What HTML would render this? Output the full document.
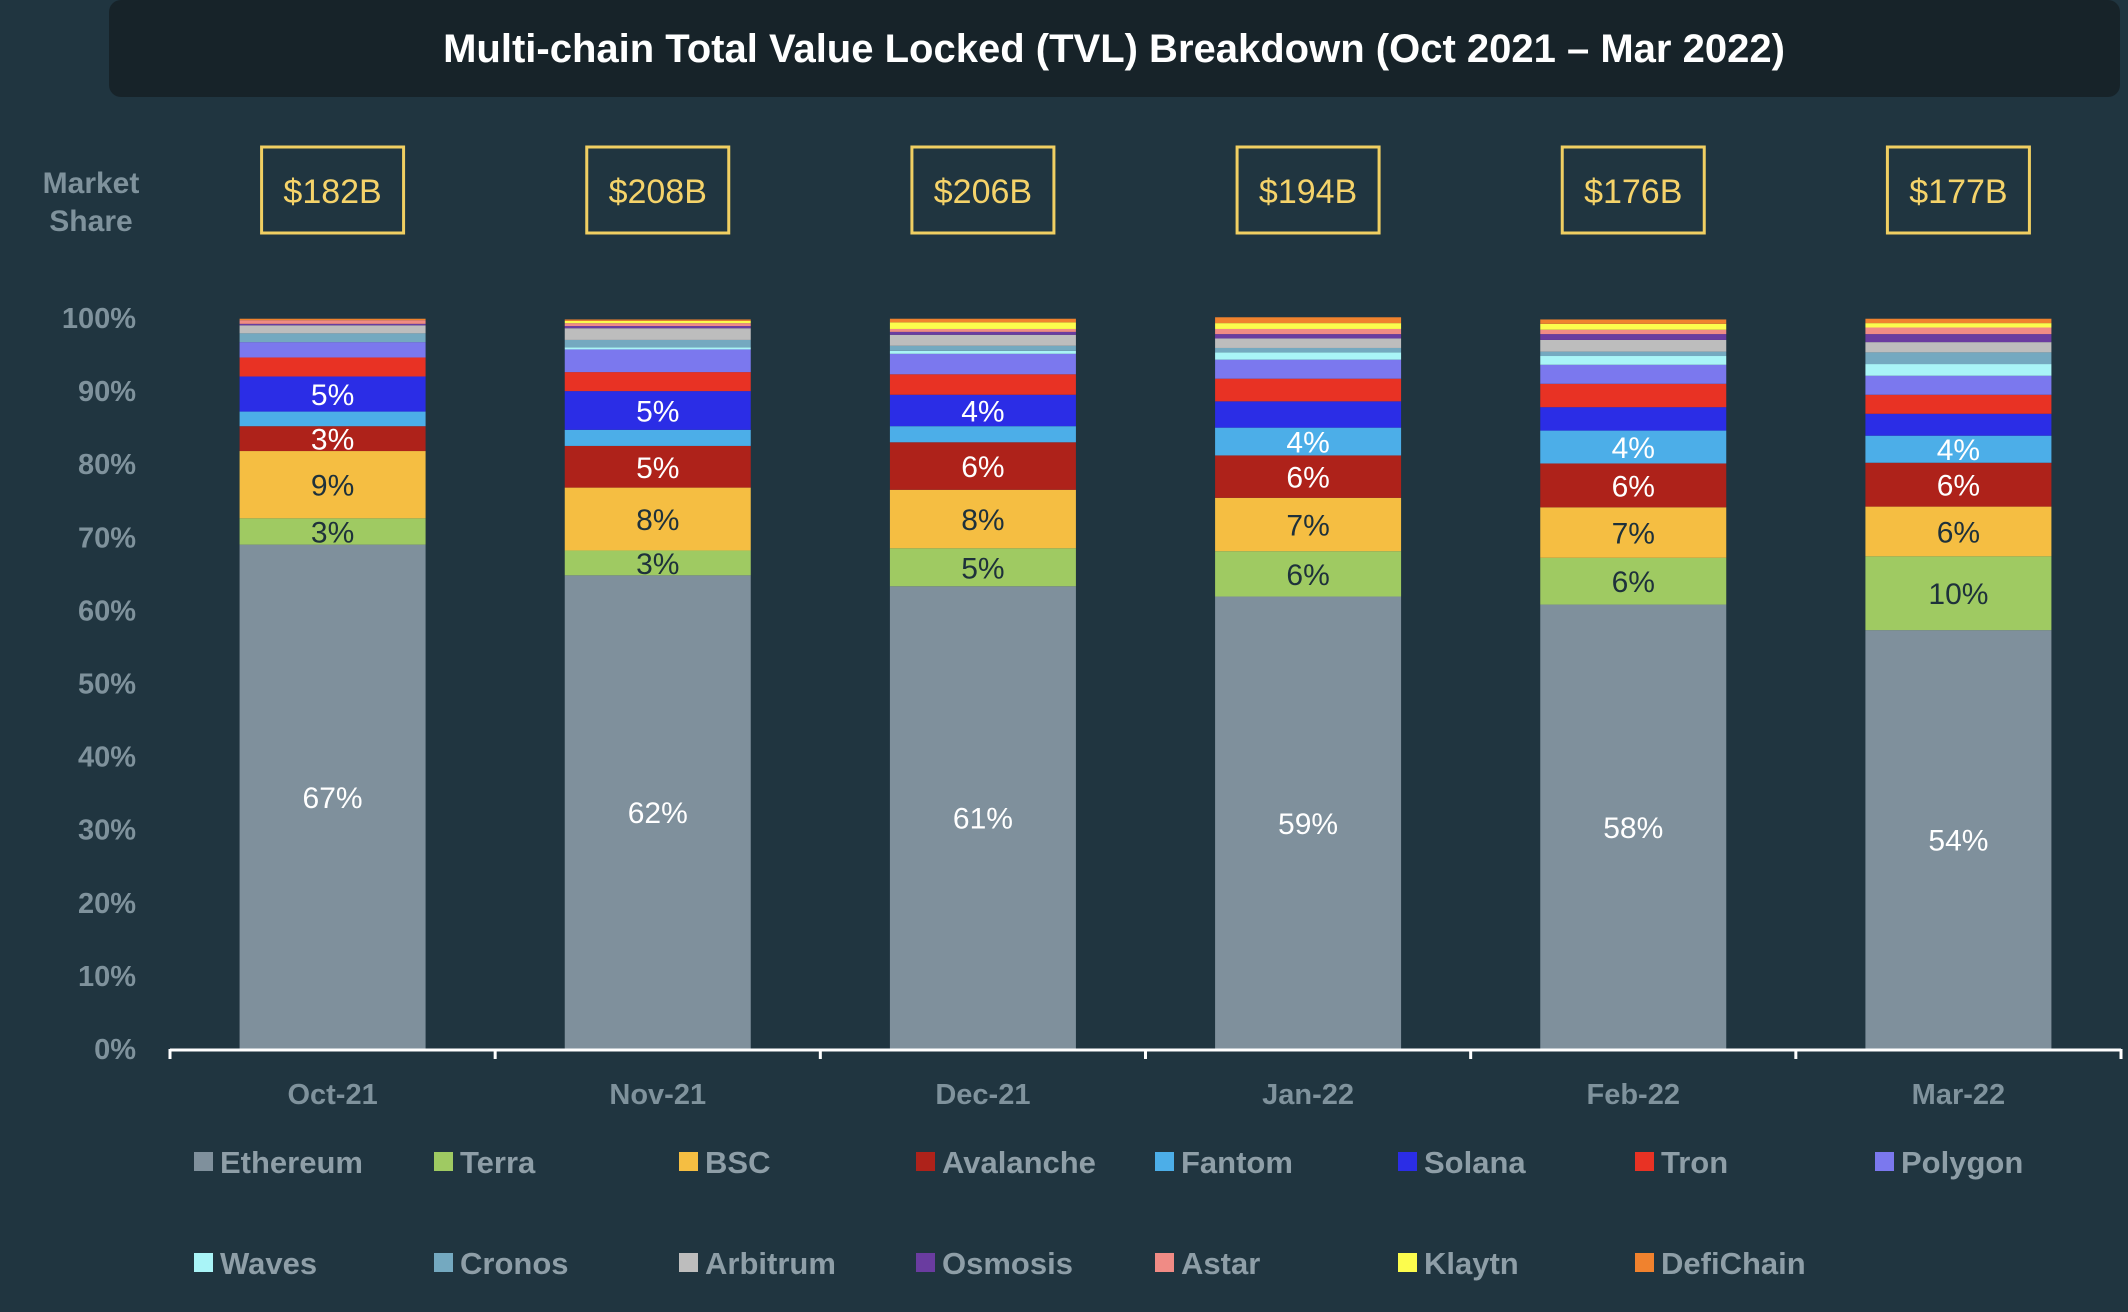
<!DOCTYPE html>
<html><head><meta charset="utf-8"><style>
html,body{margin:0;padding:0;background:#203540;}
svg{display:block;font-family:"Liberation Sans",sans-serif;}
</style></head><body>
<svg id="chart" width="2128" height="1312" viewBox="0 0 2128 1312" xmlns="http://www.w3.org/2000/svg">
<rect x="0" y="0" width="2128" height="1312" fill="#203540"/>
<rect x="109" y="0" width="2011" height="97" rx="12" fill="#172329"/>
<text x="1114" y="62" text-anchor="middle" font-size="40" font-weight="bold" fill="#ffffff">Multi-chain Total Value Locked (TVL) Breakdown (Oct 2021 – Mar 2022)</text>
<text x="91" y="193" text-anchor="middle" font-size="30" font-weight="bold" fill="#7f929c"><tspan x="91">Market</tspan><tspan x="91" dy="38">Share</tspan></text>
<g id="plot"></g>
</svg>
<script>
const categories = ["Oct-21","Nov-21","Dec-21","Jan-22","Feb-22","Mar-22"];
const totals = ["$182B","$208B","$206B","$194B","$176B","$177B"];
const seriesNames = ["Ethereum","Terra","BSC","Avalanche","Fantom","Solana","Tron","Polygon","Waves","Cronos","Arbitrum","Osmosis","Astar","Klaytn","DefiChain"];
const seriesColors = ["#7f909c","#9fca62","#f5be42","#ae221a","#4caee8","#2b2de6","#e83224","#7b78ee","#a9f4f7","#74a9c0","#bdbdbd","#6a3ca0","#f08b85","#fcfc4d","#f0822e"];
const ethereum  = [69.0,64.8,63.3,61.9,60.8,57.3];
const terra     = [3.6,3.4,5.2,6.2,6.4,10.1];
const bsc       = [9.2,8.6,8.0,7.3,6.9,6.8];
const avalanche = [3.4,5.7,6.5,5.8,6.0,6.0];
const fantom    = [2.0,2.2,2.2,3.8,4.5,3.7];
const solana    = [4.8,5.3,4.3,3.6,3.2,3.0];
const tron      = [2.6,2.6,2.8,3.1,3.2,2.6];
const polygon   = [2.1,3.1,2.8,2.6,2.6,2.6];
const waves     = [0.0,0.3,0.4,1.0,1.2,1.6];
const cronos    = [1.2,1.0,0.7,0.6,0.6,1.6];
const arbitrum  = [1.1,1.6,1.5,1.3,1.6,1.4];
const osmosis   = [0.2,0.3,0.4,0.6,0.8,1.1];
const astar     = [0.5,0.4,0.4,0.7,0.6,0.9];
const klaytn    = [0.0,0.3,0.9,0.8,0.8,0.6];
const defichain = [0.2,0.2,0.5,0.8,0.6,0.6];
const ethLabels   = ["67%","62%","61%","59%","58%","54%"];
const terraLabels = ["3%","3%","5%","6%","6%","10%"];
const bscLabels   = ["9%","8%","8%","7%","7%","6%"];
const avaxLabels  = ["3%","5%","6%","6%","6%","6%"];
const fantomLabels= [null,null,null,"4%","4%","4%"];
const solanaLabels= ["5%","5%","4%",null,null,null];
const yTicks = [0,10,20,30,40,50,60,70,80,90,100];

const series = [ethereum,terra,bsc,avalanche,fantom,solana,tron,polygon,waves,cronos,arbitrum,osmosis,astar,klaytn,defichain];
const labels = [ethLabels,terraLabels,bscLabels,avaxLabels,fantomLabels,solanaLabels];
const labelColors = ["#ffffff","#1e313b","#1e313b","#ffffff","#ffffff","#ffffff"];

const NS="http://www.w3.org/2000/svg";
const plot=document.getElementById('plot');
const x0=170,x1=2121,y0=1049,y100=318;
const band=(x1-x0)/categories.length, barW=186;
const yScale=v=>y0-(v/100)*(y0-y100);
const xCenter=i=>x0+band*(i+0.5);
function mk(tag,attrs,parent){const e=document.createElementNS(NS,tag);for(const k in attrs)e.setAttribute(k,attrs[k]);(parent||plot).appendChild(e);return e;}

yTicks.forEach(t=>{
  const e=mk('text',{x:136,y:yScale(t)+10,'text-anchor':'end','font-size':29,'font-weight':'bold',fill:'#7f929c'});
  e.textContent=t+'%';
  
  
});

categories.forEach((c,i)=>{
  const cx=xCenter(i);
  let cum=0;
  series.forEach((s,k)=>{
    const v=s[i]; if(!v) { cum+=v; return; }
    const r=mk('rect',{x:cx-barW/2,y:yScale(cum+v),width:barW,height:yScale(cum)-yScale(cum+v),fill:seriesColors[k]});
    
    
    if(k<labels.length && labels[k][i]){
      const t=mk('text',{x:cx,y:(yScale(cum)+yScale(cum+v))/2+11,'text-anchor':'middle','font-size':30,fill:labelColors[k]});
      t.textContent=labels[k][i];
      
      
    }
    cum+=v;
  });
  const b=mk('rect',{x:cx-71,y:147,width:142,height:86,fill:'none',stroke:'#f0cf62','stroke-width':3});
  
  
  const tt=mk('text',{x:cx,y:203,'text-anchor':'middle','font-size':34,fill:'#f5d36a'});
  tt.textContent=totals[i];
  
  
  const xl=mk('text',{x:cx,y:1104,'text-anchor':'middle','font-size':29,'font-weight':'bold',fill:'#7f929c'});
  xl.textContent=c;
  
  
});

const ax=mk('line',{x1:x0,y1:y0+1,x2:x1,y2:y0+1,stroke:'#ffffff','stroke-width':3});


for(let i=0;i<=categories.length;i++){
  const tk=mk('line',{x1:x0+band*i,y1:y0,x2:x0+band*i,y2:y0+10,stroke:'#ffffff','stroke-width':3});
  
  
}

const legX=[194,434,679,916,1155,1398,1635,1875], legY=[1162,1263];
seriesNames.forEach((n,k)=>{
  const lx=legX[k%8], ly=legY[Math.floor(k/8)];
  const g=mk('g',{});
  
  
  mk('rect',{x:lx,y:ly-10,width:19,height:19,fill:seriesColors[k]},g);
  const t=mk('text',{x:lx+26,y:ly+11,'font-size':31,'font-weight':'bold',fill:'#8e9ea7'},g);
  t.textContent=n;
});
</script>
</body></html>
